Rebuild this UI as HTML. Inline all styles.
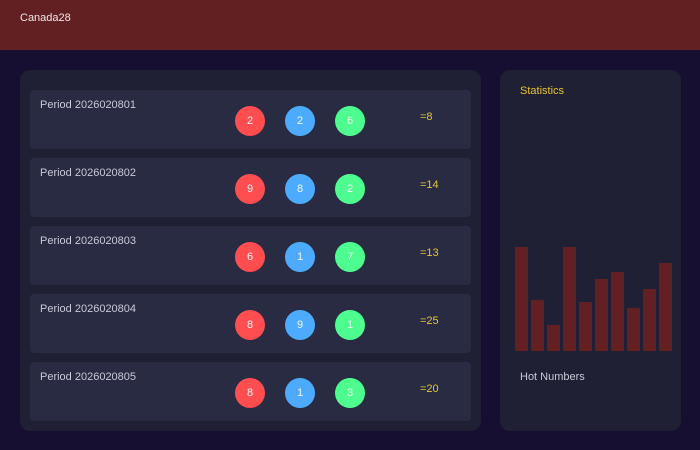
<!DOCTYPE html>
<html><head><meta charset="utf-8"><style>
*{margin:0;padding:0;box-sizing:border-box}
body{width:700px;height:450px;background:#160f32;font-family:"Liberation Sans",sans-serif;position:relative;overflow:hidden}
.hdr{position:absolute;left:0;top:0;width:700px;height:50px;background:#632022}
.hdr span{position:absolute;left:20px;top:12px;font-size:11px;color:#f0e6e6}
.lp{position:absolute;left:20px;top:70px;width:461px;height:361px;background:#1f2033;border-radius:10px}
.row{position:absolute;left:30px;width:441px;height:59px;background:#292b42;border-radius:4px}
.row .p{position:absolute;left:10px;top:9px;font-size:11px;color:#c9c9d8}
.b{position:absolute;width:30px;height:30px;border-radius:50%;top:16px;text-align:center;line-height:30px;font-size:11px;color:#f4f4f4}
.r{background:#ff4d50;left:205px}.bl{background:#4dabff;left:255px}.g{background:#4dfd8f;left:305px}
.s{position:absolute;left:390px;top:21px;font-size:11px;color:#e6c530}
.rp{position:absolute;left:500px;top:70px;width:181px;height:361px;background:#1f2033;border-radius:10px}
.st{position:absolute;left:520px;top:85px;font-size:11px;color:#e6c530}
.hn{position:absolute;left:520px;top:371px;font-size:11px;color:#c9c9d8}
.bar{position:absolute;width:13px;background:#632022}
</style></head><body>
<div class="hdr"><span>Canada28</span></div>
<div class="lp"></div>
<div class="row" style="top:90px"><div class="p">Period 2026020801</div><div class="b r">2</div><div class="b bl">2</div><div class="b g">6</div><div class="s">=8</div></div>
<div class="row" style="top:158px"><div class="p">Period 2026020802</div><div class="b r">9</div><div class="b bl">8</div><div class="b g">2</div><div class="s">=14</div></div>
<div class="row" style="top:226px"><div class="p">Period 2026020803</div><div class="b r">6</div><div class="b bl">1</div><div class="b g">7</div><div class="s">=13</div></div>
<div class="row" style="top:294px"><div class="p">Period 2026020804</div><div class="b r">8</div><div class="b bl">9</div><div class="b g">1</div><div class="s">=25</div></div>
<div class="row" style="top:362px"><div class="p">Period 2026020805</div><div class="b r">8</div><div class="b bl">1</div><div class="b g">3</div><div class="s">=20</div></div>
<div class="rp"></div>
<div class="st">Statistics</div>
<div class="bar" style="left:515px;top:247px;height:104px"></div>
<div class="bar" style="left:531px;top:300px;height:51px"></div>
<div class="bar" style="left:547px;top:325px;height:26px"></div>
<div class="bar" style="left:563px;top:247px;height:104px"></div>
<div class="bar" style="left:579px;top:302px;height:49px"></div>
<div class="bar" style="left:595px;top:279px;height:72px"></div>
<div class="bar" style="left:611px;top:272px;height:79px"></div>
<div class="bar" style="left:627px;top:308px;height:43px"></div>
<div class="bar" style="left:643px;top:289px;height:62px"></div>
<div class="bar" style="left:659px;top:263px;height:88px"></div>
<div class="hn">Hot Numbers</div>
</body></html>
